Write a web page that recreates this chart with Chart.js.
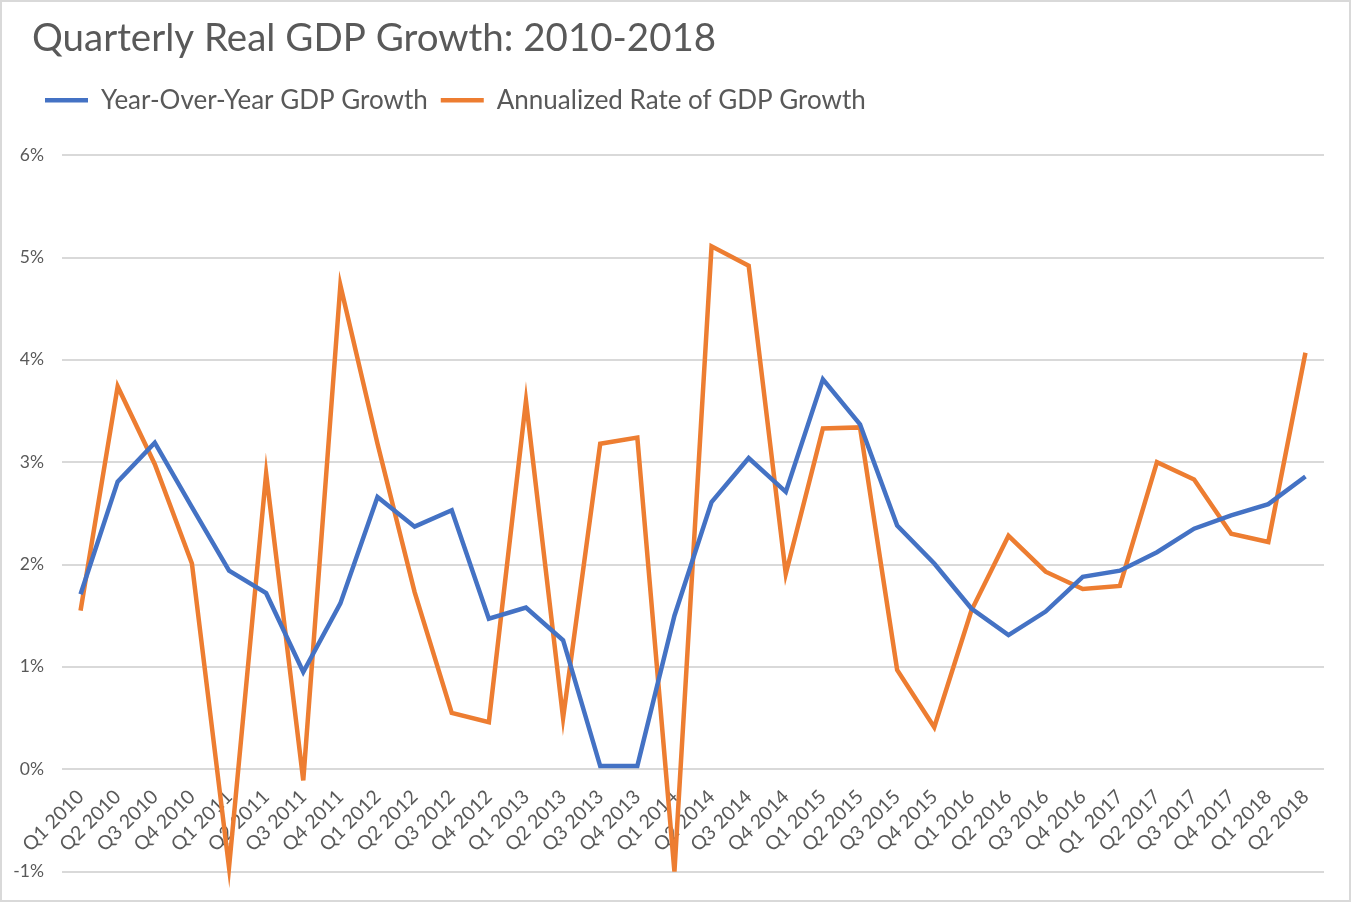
<!DOCTYPE html>
<html>
<head>
<meta charset="utf-8">
<script src="https://cdn.jsdelivr.net/npm/chart.js@4.4.1/dist/chart.umd.min.js"></script>
<style>
  html, body { margin: 0; padding: 0; background: #fff; }
  #wrap {
    width: 1351px; height: 902px; box-sizing: border-box;
    border: 2px solid #d9d9d9; position: relative;
  }
</style>
</head>
<body>
<div id="wrap"><canvas id="gdpChart"></canvas></div>
<script>
const quarters = [
  'Q1 2010', 'Q2 2010', 'Q3 2010', 'Q4 2010',
  'Q1 2011', 'Q2 2011', 'Q3 2011', 'Q4 2011',
  'Q1 2012', 'Q2 2012', 'Q3 2012', 'Q4 2012',
  'Q1 2013', 'Q2 2013', 'Q3 2013', 'Q4 2013',
  'Q1 2014', 'Q2 2014', 'Q3 2014', 'Q4 2014',
  'Q1 2015', 'Q2 2015', 'Q3 2015', 'Q4 2015',
  'Q1 2016', 'Q2 2016', 'Q3 2016', 'Q4 2016',
  'Q1  2017', 'Q2 2017', 'Q3 2017', 'Q4 2017',
  'Q1 2018', 'Q2 2018'
];

// year-over-year growth, %
const yoyGrowth = [
  1.71, 2.81, 3.19, 2.56,
  1.94, 1.72, 0.95, 1.62,
  2.66, 2.37, 2.53, 1.47,
  1.58, 1.26, 0.03, 0.03,
  1.50, 2.61, 3.04, 2.71,
  3.81, 3.37, 2.38, 2.01,
  1.57, 1.31, 1.54, 1.88,
  1.94, 2.12, 2.35, 2.48,
  2.59, 2.86
];

// annualized quarterly rate, %
const annualizedGrowth = [
  1.55, 3.74, 2.98, 2.01,
  -0.96, 2.89, -0.11, 4.73,
  3.18, 1.73, 0.55, 0.46,
  3.60, 0.50, 3.18, 3.24,
  -1.00, 5.11, 4.92, 1.91,
  3.33, 3.34, 0.97, 0.41,
  1.55, 2.28, 1.93, 1.76,
  1.79, 3.00, 2.83, 2.30,
  2.22, 4.07
];

const yTicks = [-1, 0, 1, 2, 3, 4, 5, 6];

const textColor = '#595959';
const gridColor = '#d9d9d9';
const fontFamily = 'Lato, "Open Sans", sans-serif';

// y labels hang left of the narrow axis box, so widen its clip area after layout
const unclipYLabels = {
  id: 'unclipYLabels',
  afterLayout(chart) {
    chart.scales.y.left = 0;
  },
};

new Chart(document.getElementById('gdpChart'), {
  type: 'line',
  data: {
    labels: quarters,
    datasets: [
      {
        label: 'Year-Over-Year GDP Growth',
        data: yoyGrowth,
        borderColor: '#4472c4',
        backgroundColor: '#4472c4',
        borderWidth: 4.5,
        pointRadius: 0,
        tension: 0,
        clip: false,
      },
      {
        label: 'Annualized Rate of GDP Growth',
        data: annualizedGrowth,
        borderColor: '#ed7d31',
        backgroundColor: '#ed7d31',
        borderWidth: 4.5,
        pointRadius: 0,
        tension: 0,
        clip: false,
      },
    ],
  },
  plugins: [unclipYLabels],
  options: {
    responsive: true,
    maintainAspectRatio: false,
    animation: false,
    layout: { padding: { left: 30, right: 25, top: 0, bottom: 24 } },
    plugins: {
      tooltip: { enabled: false },
      title: {
        display: true,
        text: 'Quarterly Real GDP Growth: 2010-2018',
        align: 'start',
        color: textColor,
        font: { family: fontFamily, size: 38.5, weight: 'normal' },
        padding: { top: 13, bottom: 13 },
      },
      legend: {
        display: true,
        align: 'start',
        labels: {
          color: textColor,
          font: { family: fontFamily, size: 26 },
          usePointStyle: true,
          pointStyle: 'line',
          pointStyleWidth: 43,
          boxHeight: 26,
          padding: 13,
        },
      },
      // empty spacer between legend and plot
      subtitle: {
        display: true,
        text: '',
        weight: 500,
        font: { size: 10 },
        padding: { top: 0, bottom: 20 },
      },
    },
    scales: {
      x: {
        position: { y: 0 },
        offset: true,
        grid: { display: false, drawTicks: false },
        border: { display: false },
        ticks: {
          color: textColor,
          font: { family: fontFamily, size: 19.5 },
          maxRotation: 45,
          minRotation: 45,
          autoSkip: false,
          padding: 16,
        },
      },
      y: {
        min: -1,
        max: 6,
        afterBuildTicks: (scale) => {
          scale.ticks = yTicks.map((v) => ({ value: v }));
        },
        afterFit: (scale) => { scale.width = 30; },
        grid: { color: gridColor, lineWidth: 2, drawTicks: false },
        border: { display: false },
        ticks: {
          color: textColor,
          font: { family: fontFamily, size: 17.5 },
          padding: 18,
          callback: (v) => v + '%',
        },
      },
    },
  },
});
</script>
</body>
</html>
